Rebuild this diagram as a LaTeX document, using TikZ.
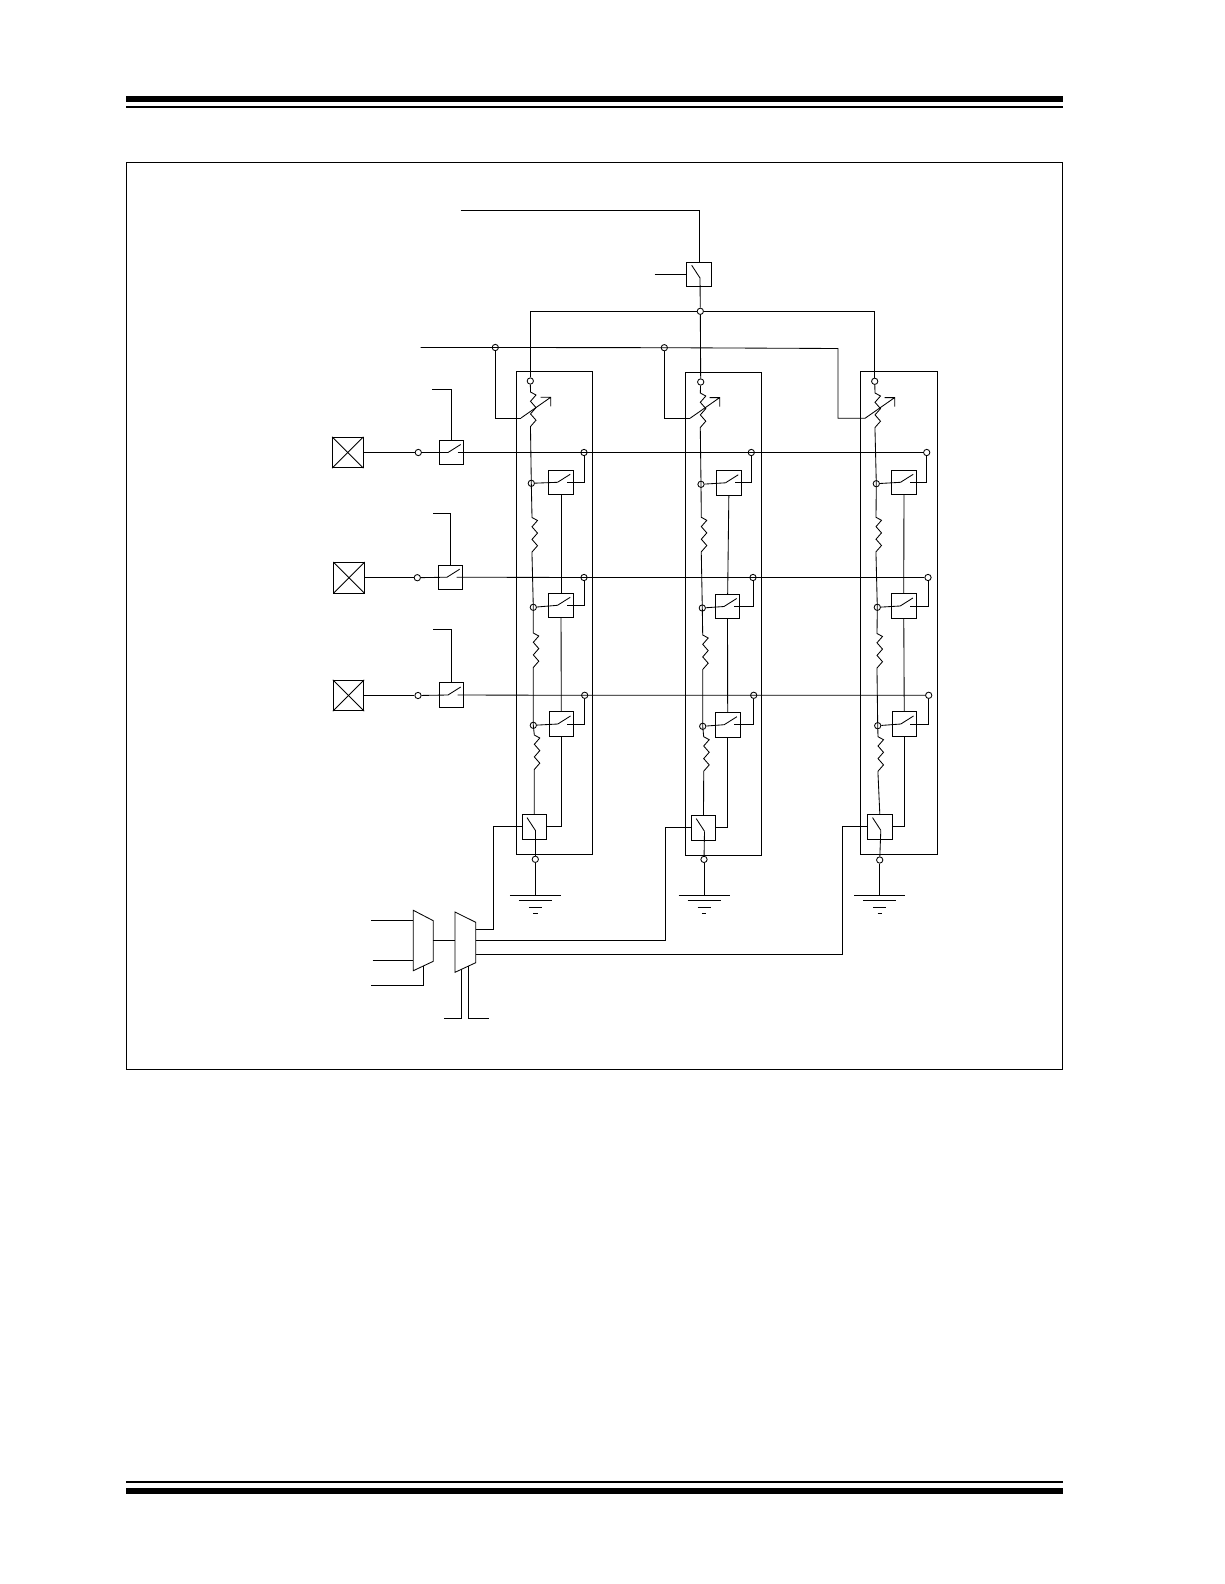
\documentclass[tikz,border=0pt]{standalone}
\usepackage{tikz}
\usetikzlibrary{calc}
\tikzset{
  wire/.style={line width=0.85pt},
  tap/.style={circle,draw,line width=0.85pt,inner sep=0pt,minimum size=6.3pt},
  swbox/.style={rectangle,draw,line width=0.85pt,inner sep=0pt,minimum size=24.5pt},
  padbox/.style={rectangle,draw,line width=0.85pt,inner sep=0pt,minimum size=30.5pt},
  gndsym/.pic={
    \draw[wire] (-25.5,0) -- (25.5,0);
    \draw[wire] (-16.5,5.5) -- (16.5,5.5);
    \draw[wire] (-6.5,12) -- (6.5,12);
    \draw[wire] (-2.2,18) -- (2.2,18);
  }
}
% switch with the arm going right, and with the arm going down
\newcommand{\hswitch}[1]{%
  \coordinate (#1l) at ($(#1.center)+(-3.5,0)$);
  \coordinate (#1r) at ($(#1.center)+(6,0)$);
  \draw[wire] (#1l) -- ++(12.7,-8);
}
\newcommand{\vswitch}[1]{%
  \coordinate (#1h) at ($(#1.center)+(1,3.5)$);
  \draw[wire] (#1h) -- ++(-8.3,-12.7);
}
\newcommand{\zigres}{-- ++(5.5,3) -- ++(-5.5,6.3) -- ++(5.5,6.3) -- ++(-5.5,6.3) -- ++(5.5,6.3) -- ++(-5.5,6.3) -- ++(0,2.5)}
\newcommand{\wiper}{-- ++(29.7,-20.7) ++(-10,0) -- ++(10,0) -- ++(0,9)}

\begin{document}
\begin{tikzpicture}[x=1pt,y=-1pt]
    \useasboundingbox (0,0) rectangle (1224,1584);
    % page rules and frame
    \fill (126,96) rectangle (1062.5,102);
    \fill (126,106) rectangle (1062.5,108);
    \fill (126,1481) rectangle (1062.5,1483);
    \fill (126,1488) rectangle (1062.5,1494);
    \draw [wire] (126,162) rectangle (1062,1069.5);
    % column boxes
    \draw [wire] (516.3,371.3) rectangle (592.7,854);
    \draw [wire] (685.3,372) rectangle (761.7,855);
    \draw [wire] (860.5,371.7) rectangle (937,854.7);
    % top switch and bus
    \coordinate (topin) at (460.5,210.3);
    \coordinate (topturn) at (699.7,210.3);
    \coordinate (topctl) at (654.7,274.5);
    \node [swbox] (sT) at (699,274.5) {};
    \node [tap] (tBus) at (700.3,311.3) {};
    \node [tap] (tA) at (530.3,381) {};
    \node [tap] (tB) at (700.7,382) {};
    \node [tap] (tC) at (874.7,381.3) {};
    \vswitch{sT}
    \draw [wire] (topin) -- (topturn) -- (topturn |- sT.north);
    \draw [wire] (topctl) -- (sT.west);
    \draw [wire] (sTh) -- (tBus);
    \draw [wire] (tA) |- (tBus);
    \draw [wire] (tBus) -| (tC);
    \draw [wire] (tBus) -- (tB);
    % reference line and wipers
    \coordinate (vin) at (420.7,347.5);
    \coordinate (vend) at (838,348.5);
    \coordinate (wA) at (521,418);
    \coordinate (wB) at (690,418.3);
    \coordinate (wC) at (865,418.3);
    \node [tap] (vA) at (495.3,347.5) {};
    \node [tap] (vB) at (664.3,347.7) {};
    \draw [wire] (vin) -- (vA.center) -- (vB.center) -- (vend) |- (wC);
    \draw [wire] (vA) |- (wA);
    \draw [wire] (vB) |- (wB);
    \draw [wire] (wA) \wiper;
    \draw [wire] (wB) \wiper;
    \draw [wire] (wC) \wiper;
    % pads and row switches
    \node [padbox] (p1) at (347.8,452.5) {};
    \node [padbox] (p2) at (349,577.7) {};
    \node [padbox] (p3) at (348.5,695.5) {};
    \node [tap] (i1) at (418.3,452.5) {};
    \node [tap] (i2) at (417.3,577.7) {};
    \node [tap] (i3) at (418,695.5) {};
    \node [swbox] (s1) at (451.5,452.5) {};
    \node [swbox] (s2) at (450.5,577.2) {};
    \node [swbox] (s3) at (451.5,695) {};
    \coordinate (c1a) at (432,389.3);
    \coordinate (c1b) at (451.5,389.3);
    \coordinate (c2a) at (433,513.3);
    \coordinate (c2b) at (450.5,513.3);
    \coordinate (c3a) at (433,629.2);
    \coordinate (c3b) at (451.5,629.2);
    \draw [wire] (p1.north west) -- (p1.south east);
    \draw [wire] (p1.north east) -- (p1.south west);
    \draw [wire] (p2.north west) -- (p2.south east);
    \draw [wire] (p2.north east) -- (p2.south west);
    \draw [wire] (p3.north west) -- (p3.south east);
    \draw [wire] (p3.north east) -- (p3.south west);
    \hswitch{s1}
    \hswitch{s2}
    \hswitch{s3}
    \draw [wire] (p1) -- (i1);
    \draw [wire] (p2) -- (i2);
    \draw [wire] (p3) -- (i3);
    \draw [wire] (i1) -- (s1l);
    \draw [wire] (i2) -- (s2l);
    \draw [wire] (i3) -- (s3l);
    \draw [wire] (c1a) -- (c1b) -- (s1.north);
    \draw [wire] (c2a) -- (c2b) -- (s2.north);
    \draw [wire] (c3a) -- (c3b) -- (s3.north);
    % column A
    \node [tap] (hA1) at (584,452.5) {};
    \node [tap] (hA2) at (584,577.5) {};
    \node [tap] (hA3) at (584.7,695.3) {};
    \node [tap] (jA1) at (531.3,483.3) {};
    \node [tap] (jA2) at (533.3,607.3) {};
    \node [tap] (jA3) at (533.3,725.3) {};
    \node [swbox] (sA1) at (561,482.3) {};
    \node [swbox] (sA2) at (561,605.3) {};
    \node [swbox] (sA3) at (561.3,724) {};
    \node [swbox] (bA) at (534.3,826.8) {};
    \node [tap] (gA) at (535.3,859.3) {};
    \coordinate (rA0) at (530.5,392);
    \coordinate (rA1) at (532,517.5);
    \coordinate (rA2) at (533.3,633);
    \coordinate (rA3) at (534.3,735);
    \coordinate (eA) at (535.3,895);
    \hswitch{sA1}
    \hswitch{sA2}
    \hswitch{sA3}
    \vswitch{bA}
    \draw [wire] (tA) -- (rA0) \zigres -- (jA1.center) -- (rA1) \zigres -- (jA2.center) -- (rA2) \zigres -- (jA3.center) -- (rA3) \zigres -- (bA.north);
    \draw [wire] (jA1) -- (sA1l);
    \draw [wire] (jA2) -- (sA2l);
    \draw [wire] (jA3) -- (sA3l);
    \draw [wire] (hA1) |- (sA1r);
    \draw [wire] (hA2) |- (sA2r);
    \draw [wire] (hA3) |- (sA3r);
    \draw [wire] (sA1) -- (sA2);
    \draw [wire] (sA2) -- (sA3);
    \draw [wire] (sA3) |- (bA);
    \draw [wire] (bAh) -- (gA);
    \draw [wire] (gA) -- (eA);
    \pic at (eA) {gndsym};
    % column B
    \node [tap] (hB1) at (751.3,452.5) {};
    \node [tap] (hB2) at (753,577.5) {};
    \node [tap] (hB3) at (753.7,695.3) {};
    \node [tap] (jB1) at (701,484.3) {};
    \node [tap] (jB2) at (702.3,608) {};
    \node [tap] (jB3) at (702.7,726.3) {};
    \node [swbox] (sB1) at (729,482.8) {};
    \node [swbox] (sB2) at (727.5,606.5) {};
    \node [swbox] (sB3) at (727.7,724.7) {};
    \node [swbox] (bB) at (703.5,827.8) {};
    \node [tap] (gB) at (704,859.4) {};
    \coordinate (rB0) at (700.3,393);
    \coordinate (rB1) at (701.3,517.3);
    \coordinate (rB2) at (702.7,635);
    \coordinate (rB3) at (703.7,736.7);
    \coordinate (eB) at (704,895);
    \hswitch{sB1}
    \hswitch{sB2}
    \hswitch{sB3}
    \vswitch{bB}
    \draw [wire] (tB) -- (rB0) \zigres -- (jB1.center) -- (rB1) \zigres -- (jB2.center) -- (rB2) \zigres -- (jB3.center) -- (rB3) \zigres -- (bB.north);
    \draw [wire] (jB1) -- (sB1l);
    \draw [wire] (jB2) -- (sB2l);
    \draw [wire] (jB3) -- (sB3l);
    \draw [wire] (hB1) |- (sB1r);
    \draw [wire] (hB2) |- (sB2r);
    \draw [wire] (hB3) |- (sB3r);
    \draw [wire] (sB1) -- (sB2);
    \draw [wire] (sB2) -- (sB3);
    \draw [wire] (sB3) |- (bB);
    \draw [wire] (bBh) -- (gB);
    \draw [wire] (gB) -- (eB);
    \pic at (eB) {gndsym};
    % column C
    \node [tap] (hC1) at (926.7,452.5) {};
    \node [tap] (hC2) at (928,577.5) {};
    \node [tap] (hC3) at (928.7,695.3) {};
    \node [tap] (jC1) at (876.3,483.7) {};
    \node [tap] (jC2) at (877.3,607.3) {};
    \node [tap] (jC3) at (877.7,725.7) {};
    \node [swbox] (sC1) at (904,482.3) {};
    \node [swbox] (sC2) at (903.7,606) {};
    \node [swbox] (sC3) at (904.3,724) {};
    \node [swbox] (bC) at (879.8,826.8) {};
    \node [tap] (gC) at (879.7,860) {};
    \coordinate (rC0) at (875,393);
    \coordinate (rC1) at (876,517.3);
    \coordinate (rC2) at (877,633.5);
    \coordinate (rC3) at (878,736.7);
    \coordinate (eC) at (879.7,895);
    \hswitch{sC1}
    \hswitch{sC2}
    \hswitch{sC3}
    \vswitch{bC}
    \draw [wire] (tC) -- (rC0) \zigres -- (jC1.center) -- (rC1) \zigres -- (jC2.center) -- (rC2) \zigres -- (jC3.center) -- (rC3) \zigres -- (bC.north);
    \draw [wire] (jC1) -- (sC1l);
    \draw [wire] (jC2) -- (sC2l);
    \draw [wire] (jC3) -- (sC3l);
    \draw [wire] (hC1) |- (sC1r);
    \draw [wire] (hC2) |- (sC2r);
    \draw [wire] (hC3) |- (sC3r);
    \draw [wire] (sC1) -- (sC2);
    \draw [wire] (sC2) -- (sC3);
    \draw [wire] (sC3) |- (bC);
    \draw [wire] (bCh) -- (gC);
    \draw [wire] (gC) -- (eC);
    \pic at (eC) {gndsym};
    % row lines
    \draw [wire] (s1r) -- (hA1.center) -- (hB1.center) -- (hC1);
    \draw [wire] (s2r) -- (hA2.center) -- (hB2.center) -- (hC2);
    \draw [wire] (s3r) -- (hA3.center) -- (hB3.center) -- (hC3);
    % muxes
    \coordinate (m1a) at (413.3,910.3);
    \coordinate (m1b) at (433.3,920.7);
    \coordinate (m1c) at (433.3,961.3);
    \coordinate (m1d) at (413.3,970.7);
    \coordinate (m2a) at (455,912);
    \coordinate (m2b) at (475.7,922.3);
    \coordinate (m2c) at (475.7,962.7);
    \coordinate (m2d) at (455,972.3);
    \draw [wire] (m1a) -- (m1b) -- (m1c) -- (m1d) -- cycle;
    \draw [wire] (m2a) -- (m2b) -- (m2c) -- (m2d) -- cycle;
    \coordinate (in1) at (371,920.3);
    \coordinate (in1e) at (413.3,920.3);
    \coordinate (in2) at (372.7,960.3);
    \coordinate (in2e) at (413.3,960.3);
    \coordinate (in3) at (371,985.3);
    \coordinate (in3e) at (423.3,966);
    \coordinate (mo) at (433.3,940.3);
    \coordinate (mi) at (455,940.3);
    \coordinate (sel1) at (461.3,969.4);
    \coordinate (sel1a) at (461.3,1018.3);
    \coordinate (sel1b) at (444,1018.3);
    \coordinate (sel2) at (468.3,966);
    \coordinate (sel2a) at (468.3,1018.3);
    \coordinate (sel2b) at (489.3,1018.3);
    \coordinate (oA) at (475.7,929.3);
    \coordinate (oB) at (475.7,940.3);
    \coordinate (oC) at (475.7,954);
    \coordinate (xA) at (493.3,826.8);
    \coordinate (xB) at (665,827.8);
    \coordinate (xC) at (842.7,826.8);
    \draw [wire] (in1) -- (in1e);
    \draw [wire] (in2) -- (in2e);
    \draw [wire] (in3) -| (in3e);
    \draw [wire] (mo) -- (mi);
    \draw [wire] (sel1) -- (sel1a) -- (sel1b);
    \draw [wire] (sel2) -- (sel2a) -- (sel2b);
    \draw [wire] (oA) -| (xA) -- (bA);
    \draw [wire] (oB) -| (xB) -- (bB);
    \draw [wire] (oC) -| (xC) -- (bC);
  \end{tikzpicture}
\end{document}
